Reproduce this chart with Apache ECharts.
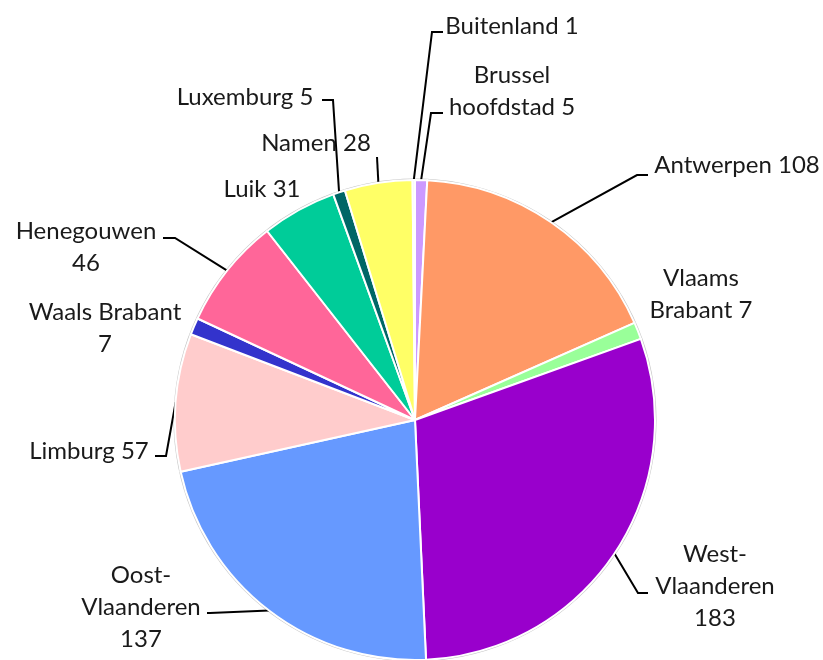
<!DOCTYPE html>
<html>
<head>
<meta charset="utf-8">
<script src="https://cdn.jsdelivr.net/npm/echarts@6/dist/echarts.min.js"></script>
<style>
  html, body { margin: 0; padding: 0; background: #fff; }
  #chart { width: 823px; height: 660px; }
</style>
</head>
<body>
<div id="chart"></div>
<script>
// Provinces, clockwise from 12 o'clock
const regions = ['Brussel\nhoofdstad', 'Antwerpen', 'Vlaams\nBrabant', 'West-\nVlaanderen',
  'Oost-\nVlaanderen', 'Limburg', 'Waals Brabant', 'Henegouwen', 'Luik', 'Luxemburg', 'Namen', 'Buitenland'];
const counts = [5, 108, 7, 183, 137, 57, 7, 46, 31, 5, 28, 1];
// separator placed between name and value in each label
const valueSep = [' ', ' ', ' ', '\n', '\n', ' ', '\n', '\n', ' ', ' ', ' ', ' '];
const colors = ['#CC99FF', '#FF9966', '#99FF99', '#9900CC', '#6699FF', '#FFCCCC',
  '#3333CC', '#FF6699', '#00CC99', '#006666', '#FFFF66', '#F4F4F4'];

// Geometry of the pie
const CX = 415, CY = 420, R = 240;

// Label placement (centre of text block) and leader-line elbow/end points
const labelPlacement = [
  { x: 512, y: 91,  line: [[431, 113], [443, 113]] },
  { x: 737, y: 165, line: [[637, 175], [648, 175]] },
  { x: 701, y: 294 },
  { x: 715, y: 586, line: [[638, 593], [648, 593]] },
  { x: 141, y: 607, line: [[210, 613], [207, 613]] },
  { x: 89,  y: 451, line: [[166, 456], [155, 456]] },
  { x: 105, y: 328 },
  { x: 86,  y: 247, line: [[175, 238], [163, 238]] },
  { x: 262, y: 189 },
  { x: 245, y: 97,  line: [[333, 100], [322, 100]] },
  { x: 316, y: 143, line: [[377, 157], [377, 157]] },
  { x: 512, y: 26,  line: [[432, 32], [443, 32]] }
];

const total = counts.reduce((a, b) => a + b, 0);
// point on the outer rim at the middle angle of slice i
function rimPoint(i) {
  let before = 0;
  for (let k = 0; k < i; k++) before += counts[k];
  const mid = (before + counts[i] / 2) / total * 2 * Math.PI;
  return [CX + R * Math.sin(mid), CY - R * Math.cos(mid)];
}

const data = counts.map((v, i) => ({
  name: regions[i],
  value: v,
  itemStyle: { color: colors[i] },
  labelLine: { show: !!labelPlacement[i].line }
}));

const chart = echarts.init(document.getElementById('chart'), null, { renderer: 'canvas' });
chart.setOption({
  animation: false,
  backgroundColor: '#ffffff',
  series: [
    {
      // thin grey rim behind the slices
      type: 'pie',
      silent: true,
      center: [CX, CY],
      radius: [0, R + 1.5],
      z: 1,
      label: { show: false },
      labelLine: { show: false },
      itemStyle: { color: '#c4c4c4' },
      data: [{ value: 1, name: '' }]
    },
    {
      type: 'pie',
      center: [CX, CY],
      radius: [0, R],
      startAngle: 90,
      clockwise: true,
      z: 2,
      avoidLabelOverlap: false,
      itemStyle: { borderColor: '#ffffff', borderWidth: 2 },
      label: {
        show: true,
        position: 'outside',
        fontFamily: 'Lato',
        fontSize: 24,
        lineHeight: 32,
        color: '#1a1a1a',
        align: 'center',
        formatter: (p) => p.name + valueSep[p.dataIndex] + p.value
      },
      labelLine: {
        lineStyle: { color: '#000000', width: 2 }
      },
      labelLayout: function (p) {
        const i = p.dataIndex;
        const L = labelPlacement[i];
        const out = { x: L.x, y: L.y, align: 'center', verticalAlign: 'middle' };
        if (L.line) out.labelLinePoints = [rimPoint(i), L.line[0], L.line[1]];
        return out;
      },
      emphasis: { disabled: true },
      data: data
    }
  ]
});
</script>
</body>
</html>
